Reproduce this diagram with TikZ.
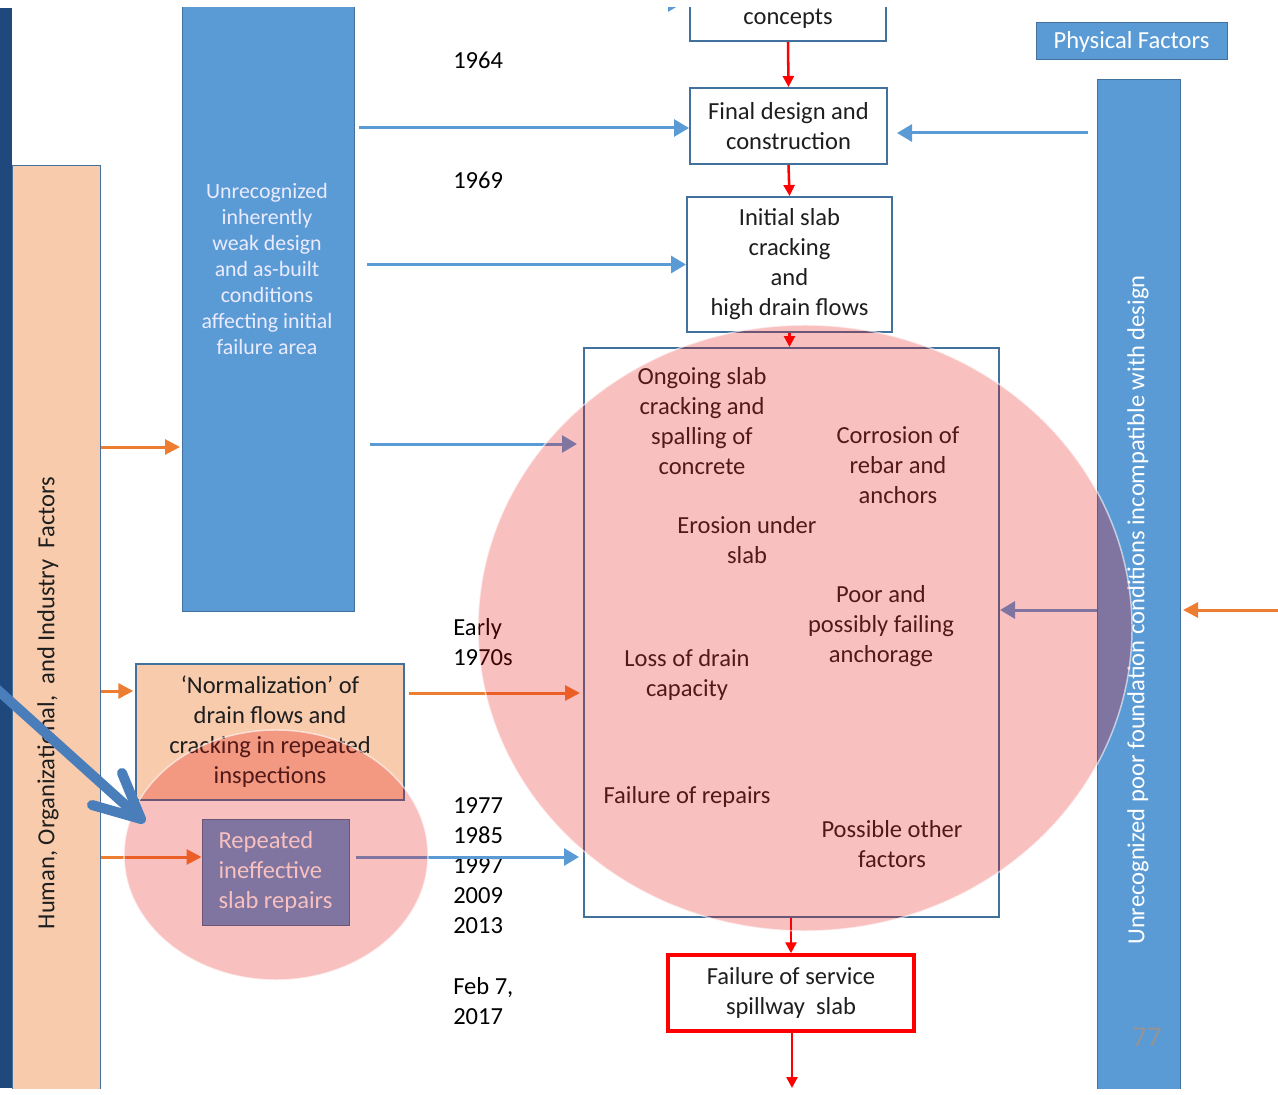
\documentclass[tikz,border=0pt]{standalone}
\usepackage{fontspec}
\setmainfont{Carlito}
\usetikzlibrary{arrows.meta,shapes.geometric,calc}
\newdimen\pxu \pxu=0.75pt
\definecolor{bfill}{RGB}{91,155,213}
\definecolor{bdraw}{RGB}{65,113,156}
\definecolor{peach}{RGB}{248,203,173}
\definecolor{navy}{RGB}{31,73,125}
\definecolor{orng}{RGB}{237,125,49}
\definecolor{pinkred}{RGB}{232,12,10}
\definecolor{txt}{RGB}{30,30,30}
\definecolor{diag}{RGB}{74,126,187}
\tikzset{
  mainfont/.style={font=\fontsize{18.4}{22.5}\selectfont},
  flow/.style={draw=bdraw, line width=1.5pt, fill=white, inner sep=0, align=center, text=txt, mainfont},
  redbox/.style={flow, draw=red, line width=2.6pt},
  lbl/.style={inner sep=0, align=center, text=txt, mainfont},
  yr/.style={inner sep=0, anchor=west, align=left, text=black, mainfont},
  barrow/.style={draw=bfill, line width=2.25pt, -{Triangle[length=11.25pt,width=12.75pt]}},
  oarrow/.style={draw=orng, line width=2.25pt, -{Triangle[length=11.25pt,width=11.25pt]}},
  rarrow/.style={draw=red, line width=1.9pt, -{Triangle[length=8.25pt,width=8.25pt]}},
  zone/.style={ellipse, inner sep=0, fill=pinkred, fill opacity=0.26, draw=white, draw opacity=0.6, line width=1.1pt},
  bigarr/.style={draw=diag, line width=7.5pt, line cap=round, line join=round},
}
\begin{document}
\begin{tikzpicture}[x=0.75pt,y=-0.75pt]
\useasboundingbox (0,0) rectangle (1278,1095);
\clip (0,8) rectangle (1278,1088);
% left bars
\node[fill=navy, inner sep=0, minimum width=12\pxu, minimum height=1080\pxu] (navybar) at (6,548) {};
\node[fill=peach, draw=bdraw, line width=0.75pt, inner sep=0, minimum width=88\pxu, minimum height=940\pxu, anchor=north west] (hof) at (12,165) {};
\node[lbl, rotate=90] (hoftxt) at (48,703) {Human, Organizational,\ \ and Industry\ \ Factors};
% blue design box
\node[fill=bfill, draw=bdraw, line width=0.75pt, inner sep=0, minimum width=172\pxu, minimum height=624\pxu, anchor=south west] (ub) at (182,612) {};
\node[inner sep=0, align=center, text=white!92!blue, font=\fontsize{16.4}{19.5}\selectfont] (ubtxt) at (267,269)
  {Unrecognized\\inherently\\weak design\\and as-built\\conditions\\affecting initial\\failure area};
% right factors
\node[fill=bfill, draw=bdraw, line width=0.75pt, inner sep=0, minimum width=191\pxu, minimum height=37\pxu, text=white, mainfont] (phys) at (1131.5,41.5) {Physical Factors};
\node[fill=bfill, draw=bdraw, line width=0.75pt, inner sep=0, minimum width=83\pxu, minimum height=1030\pxu, anchor=north west] (rbar) at (1097,79) {};
\node[inner sep=0, rotate=90, text=white, mainfont] (rbartxt) at (1138,610) {Unrecognized poor foundation conditions incompatible with design};
\node[inner sep=0, text=black!42, font=\fontsize{21.5}{24}\selectfont] (pgno) at (1147,1037) {77};
% flow boxes
\node[flow, minimum width=196\pxu, minimum height=44\pxu] (concepts) at (788,19) {concepts};
\node[flow, minimum width=197\pxu, minimum height=76\pxu] (final) at (788.5,126) {Final design and\\construction};
\node[flow, minimum width=205\pxu, minimum height=135\pxu] (initial) at (789.5,264.5) {Initial slab\\cracking\\and\\high drain flows};
\node[draw=bdraw, line width=1.5pt, inner sep=0, minimum width=415\pxu, minimum height=569\pxu] (bigbox) at (791.5,632.5) {};
\node[redbox, minimum width=246\pxu, minimum height=76\pxu] (failure) at (791,993) {Failure of service\\spillway\ \ slab};
\coordinate (endpt) at (792,1088);
% inner texts
\node[lbl] (ongoing) at (702,421) {Ongoing slab\\cracking and\\spalling of\\concrete};
\node[lbl] (corr) at (898,465) {Corrosion of\\rebar and\\anchors};
\node[lbl] (erosion) at (747,540) {Erosion under\\slab};
\node[lbl] (poor) at (881,626) {Poor and\\possibly failing\\anchorage};
\node[lbl] (loss) at (687,675) {Loss of drain\\capacity};
\node[lbl] (failrep) at (687,797) {Failure of repairs};
\node[lbl] (other) at (892,844) {Possible other\\factors};
% left boxes
\node[fill=peach, draw=bdraw, line width=1.1pt, inner sep=0, minimum width=268\pxu, minimum height=136\pxu, align=center, text=txt, mainfont] (norm) at (270,732)
  {‘Normalization’ of\\drain flows and\\cracking in repeated\\inspections};
\node[fill=bfill, draw=bdraw, line width=0.75pt, inner sep=0, minimum width=147\pxu, minimum height=106\pxu, align=left, text=white, mainfont] (rep) at (275.5,872)
  {Repeated\\ineffective\\slab repairs};
% years
\node[yr] (y64) at (453,60) {1964};
\node[yr] (y69) at (453,180) {1969};
\node[yr] (y70) at (453,642) {Early\\1970s};
\node[yr] (y77) at (453,866) {1977\\1985\\1997\\2009\\2013};
\node[yr] (y17) at (453,1001) {Feb 7,\\2017};
% helper coordinates
\coordinate (hA) at (0,444);
\coordinate (hB) at (0,447);
\coordinate (hC) at (0,693);
\coordinate (hD) at (0,857);
\coordinate (hE) at (0,610);
\coordinate (hF) at (0,128);
\coordinate (hG) at (0,133);
\coordinate (hH) at (0,691);
\coordinate (hT) at (0,3);
\coordinate (edge) at (1278,610);
% red flow arrows
\draw[rarrow] (concepts.south) -- (final.north);
\draw[rarrow] (final.south) -- (initial.north);
\draw[rarrow] (initial.south) -- (bigbox.north -| initial.south);
\draw[rarrow] (bigbox.south -| failure.north) -- (failure.north);
\draw[rarrow] ([xshift=1\pxu]failure.south) -- (endpt);
% blue arrows
\draw[barrow, shorten <=4\pxu, shorten >=6\pxu] (ub.east |- hT) -- (concepts.west |- hT);
\draw[barrow, shorten <=4\pxu] (ub.east |- hF) -- (final.west |- hF);
\draw[barrow, shorten <=12\pxu] (ub.east |- initial.west) -- (initial.west);
\draw[barrow, shorten <=15\pxu, shorten >=6\pxu] (ub.east |- hA) -- (bigbox.west |- hA);
\draw[barrow, shorten <=9\pxu, shorten >=9\pxu] (rbar.west |- hG) -- (final.east |- hG);
\draw[barrow] (rbar.west |- hE) -- (bigbox.east |- hE);
\draw[barrow, shorten <=6\pxu, shorten >=4\pxu] (rep.east |- hD) -- (bigbox.west |- hD);
% orange arrows
\draw[oarrow, shorten >=2\pxu] (hof.east |- hB) -- (ub.west |- hB);
\draw[oarrow, shorten >=2\pxu] (hof.east |- hH) -- (norm.west |- hH);
\draw[oarrow, shorten <=4\pxu, shorten >=3\pxu] (norm.east |- hC) -- (bigbox.west |- hC);
\draw[oarrow] (hof.east |- hD) -- (rep.west |- hD);
\draw[oarrow, shorten >=2\pxu] (edge) -- (rbar.east |- edge);
% pink zones
\node[zone, minimum width=654\pxu, minimum height=606\pxu] (bigzone) at (805,628) {};
\node[zone, minimum width=304\pxu, minimum height=250\pxu] (smallzone) at (276,855) {};
% big diagonal arrow
\coordinate (dstart) at (-10,683);
\coordinate (dtip) at (141,819);
\draw[bigarr] (dstart) -- (dtip);
\draw[bigarr] ($(dtip)+(-19,-46)$) -- (dtip) -- ($(dtip)+(-49,-14)$);
\end{tikzpicture}
\end{document}
